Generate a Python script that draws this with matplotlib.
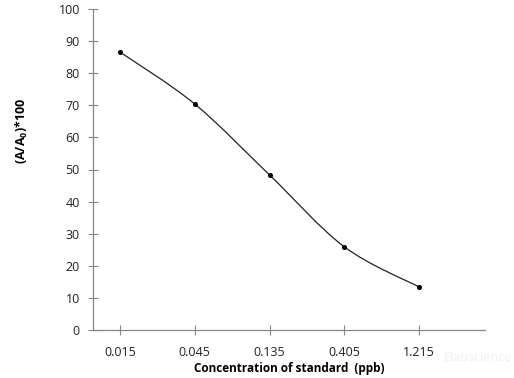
import numpy as np
import matplotlib
matplotlib.use("Agg")
import matplotlib.pyplot as plt
from matplotlib.path import Path
from matplotlib.patches import PathPatch

# data
categories = ["0.015", "0.045", "0.135", "0.405", "1.215"]
ratio = [86.6, 70.4, 48.3, 25.9, 13.4]
y_ticks = list(range(0, 101, 10))

plt.rcParams['font.family'] = ['Open Sans', 'DejaVu Sans']

fig = plt.figure(figsize=(5.14, 3.78), dpi=100)
ax = fig.add_axes([93 / 514, 48 / 378, 392 / 514, 321 / 378])

x = np.arange(len(categories), dtype=float)
y = np.array(ratio, dtype=float)

# smoothed line (Catmull-Rom style bezier, like a spreadsheet "smoothed line")
pts = np.column_stack([x, y])
verts = [tuple(pts[0])]
codes = [Path.MOVETO]
n = len(pts)
for i in range(n - 1):
    p0 = pts[max(i - 1, 0)]
    p1 = pts[i]
    p2 = pts[i + 1]
    p3 = pts[min(i + 2, n - 1)]
    c1 = p1 + (p2 - p0) / 6.0
    c2 = p2 - (p3 - p1) / 6.0
    verts += [tuple(c1), tuple(c2), tuple(p2)]
    codes += [Path.CURVE4] * 3
ax.add_patch(PathPatch(Path(verts, codes), facecolor='none', edgecolor='#222222', lw=0.9))
ax.plot(x, y, 'o', color='black', ms=2.6, zorder=3)

ax.set_xlim(-0.36, 4.88)
ax.set_ylim(0, 100)
ax.set_xticks(x)
ax.set_xticklabels(categories)
ax.set_yticks(y_ticks)

for side in ['top', 'right']:
    ax.spines[side].set_visible(False)
for side in ['left', 'bottom']:
    ax.spines[side].set_color('#868686')
    ax.spines[side].set_linewidth(0.9)
ax.tick_params(axis='both', direction='inout', length=7, width=0.8, color='#868686',
               labelsize=9, labelcolor='#222222')
ax.tick_params(axis='x', pad=8)
ax.tick_params(axis='y', pad=6)

ax.set_xlabel("Concentration of standard  (ppb)", fontsize=8.5, fontweight='bold', labelpad=2)
ax.set_ylabel(r"(A/A$_\mathregular{0}$)*100", fontsize=9, fontweight='bold')
ax.yaxis.set_label_coords(-0.16, 0.62)

fig.text(0.93, 0.055, "Elabscience", fontsize=9, color='#f0f0f0', ha='center', va='center')

fig.savefig("out.png", dpi=100)
